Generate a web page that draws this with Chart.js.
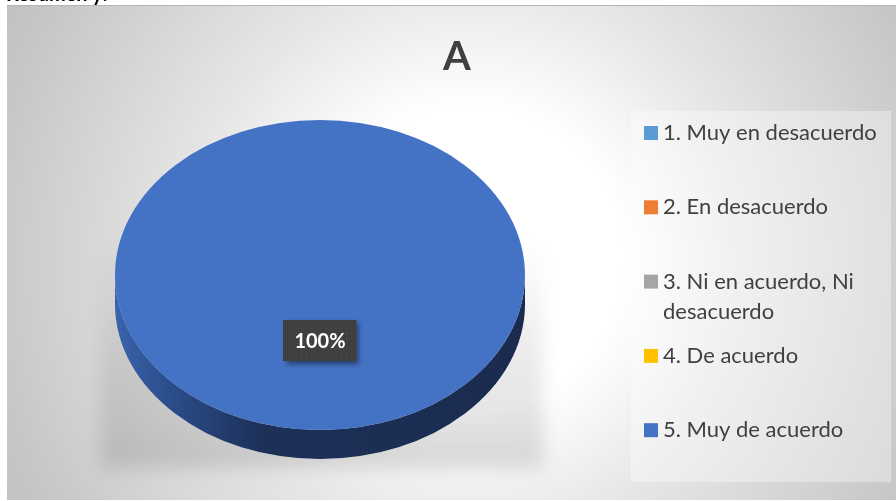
<!DOCTYPE html>
<html>
<head>
<meta charset="utf-8">
<script src="https://cdn.jsdelivr.net/npm/chart.js@4.4.1/dist/chart.umd.min.js"></script>
<style>
  html, body { margin: 0; padding: 0; background: #fff; overflow: hidden; }
  #wrap { position: relative; width: 896px; height: 501px; }
  #cut { position: absolute; left: 6px; top: -17px; font: bold 20px Lato, sans-serif; line-height: 20px; color: #000; z-index: 2; }
  canvas { position: absolute; left: 0; top: 0; }
</style>
</head>
<body>
<div id="wrap">
  <div id="cut">Resumen y:</div>
  <canvas id="chart" width="896" height="501"></canvas>
</div>
<script>
// data
const title = "A";
const categories = [
  "1. Muy en desacuerdo",
  "2. En desacuerdo",
  "3. Ni en acuerdo, Ni desacuerdo",
  "4. De acuerdo",
  "5. Muy de acuerdo",
];
const values = [0, 0, 0, 0, 100];
const colors = ["#5b9bd5", "#ed7d31", "#a5a5a5", "#ffc000", "#4472c4"];

// look of the fake 3d pie
const tilt = 155 / 205;   // squash of the top face
const depth = 29;         // thickness of the side
const topCenterY = 275;   // where the squashed face sits

const font = "Lato, 'Open Sans', sans-serif";

const total = values.reduce((a, b) => a + b, 0);

const wrapText = (ctx, text, maxW) => {
  const words = text.split(" ");
  const lines = [];
  let line = "";
  words.forEach((w) => {
    const test = line ? line + " " + w : w;
    if (ctx.measureText(test).width > maxW && line) {
      lines.push(line);
      line = w;
    } else {
      line = test;
    }
  });
  lines.push(line);
  return lines;
};

const pie3d = {
  id: "pie3d",
  beforeDraw: (chart) => {
    const ctx = chart.ctx;
    ctx.save();
    ctx.fillStyle = "#fff";
    ctx.fillRect(0, 0, chart.width, chart.height);

    // chart box with soft radial background
    const g = ctx.createRadialGradient(470, 260, 0, 470, 260, 525);
    g.addColorStop(0, "#ffffff");
    g.addColorStop(0.29, "#ffffff");
    g.addColorStop(0.54, "#e6e6e6");
    g.addColorStop(0.93, "#c6c6c6");
    g.addColorStop(1, "#c2c2c2");
    ctx.fillStyle = g;
    ctx.fillRect(7, 5, 889, 495);
    ctx.fillStyle = "#b4b4b4";
    ctx.fillRect(7, 5, 889, 1);

    // legend panel
    ctx.fillStyle = "rgba(255,255,255,0.35)";
    ctx.fillRect(631, 111, 260, 371);
    ctx.restore();
  },
  beforeDatasetsDraw: (chart) => {
    const ctx = chart.ctx;
    const meta = chart.getDatasetMeta(0);
    const first = meta.data[0];
    const cx = first.x;
    const cy = first.y;
    const r = first.outerRadius;
    const ry = r * tilt;

    // shadow under the pie
    ctx.save();
    ctx.filter = "blur(9px)";
    const sg = ctx.createLinearGradient(0, 240, 0, 470);
    sg.addColorStop(0, "rgba(0,0,0,0)");
    sg.addColorStop(0.5, "rgba(0,0,0,0.08)");
    sg.addColorStop(1, "rgba(0,0,0,0.12)");
    ctx.fillStyle = sg;
    ctx.fillRect(cx - r - 14, 240, 2 * r + 32, 228);
    ctx.restore();

    // side walls, one per slice, only on the front half
    ctx.save();
    meta.data.forEach((arc, i) => {
      if (values[i] <= 0) return;
      const s = arc.startAngle;
      const e = arc.endAngle;
      [0, 2 * Math.PI].forEach((shift) => {
        const a = Math.max(s - shift, 0);
        const b = Math.min(e - shift, Math.PI);
        if (b <= a) return;
        const lg = ctx.createLinearGradient(cx - r, 0, cx + r, 0);
        lg.addColorStop(0, "#3a64ad");
        lg.addColorStop(0.12, "#2c4f8e");
        lg.addColorStop(0.36, "#1d3058");
        lg.addColorStop(1, "#1a2b4e");
        ctx.fillStyle = lg;
        ctx.beginPath();
        ctx.ellipse(cx, topCenterY + depth, r, ry, 0, a, b);
        ctx.ellipse(cx, topCenterY, r, ry, 0, b, a, true);
        ctx.closePath();
        ctx.fill();
      });
    });
    ctx.restore();

    // squash the top face
    ctx.save();
    ctx.translate(cx, topCenterY);
    ctx.scale(1, tilt);
    ctx.translate(-cx, -cy);
  },
  afterDatasetsDraw: (chart) => {
    const ctx = chart.ctx;
    ctx.restore();

    const meta = chart.getDatasetMeta(0);
    meta.data.forEach((arc, i) => {
      if (values[i] <= 0) return;
      const mid = (arc.startAngle + arc.endAngle) / 2;
      const d = arc.outerRadius * 0.42;
      const x = arc.x + Math.cos(mid) * d;
      const y = topCenterY + Math.sin(mid) * d * tilt;
      const text = Math.round((values[i] / total) * 100) + "%";

      ctx.save();
      ctx.font = "bold 20px " + font;
      const w = ctx.measureText(text).width + 22;
      const h = 41;
      const bx = Math.round(x - w / 2);
      const by = Math.round(y - h / 2);
      ctx.shadowColor = "rgba(0,0,0,0.45)";
      ctx.shadowBlur = 5;
      ctx.shadowOffsetX = 3;
      ctx.shadowOffsetY = 3;
      ctx.fillStyle = "#3f3f3f";
      ctx.fillRect(bx, by, w, h);
      ctx.shadowColor = "transparent";
      ctx.fillStyle = "#4d4d4d";
      for (let px = bx + 3; px < bx + w; px += 5) {
        for (let py = by + 3; py < by + h; py += 5) {
          ctx.fillRect(px, py, 1, 1);
        }
      }
      ctx.fillStyle = "#ffffff";
      ctx.textAlign = "center";
      ctx.textBaseline = "middle";
      ctx.fillText(text, x, y + 1);
      ctx.restore();
    });
  },
  afterDraw: (chart) => {
    const ctx = chart.ctx;
    ctx.save();
    // title
    ctx.fillStyle = "#404040";
    ctx.font = "bold 40px " + font;
    ctx.textAlign = "center";
    ctx.textBaseline = "alphabetic";
    ctx.fillText(title, 457, 70);

    // legend
    ctx.font = "22px " + font;
    ctx.textAlign = "left";
    ctx.textBaseline = "middle";
    let y = 133;
    categories.forEach((c, i) => {
      const lines = wrapText(ctx, c, 222);
      ctx.fillStyle = colors[i];
      ctx.fillRect(644, y - 7, 14, 14);
      ctx.fillStyle = "#404040";
      lines.forEach((l, j) => ctx.fillText(l, 663, y + j * 30));
      y += 74.3;
    });
    ctx.restore();
  },
};

new Chart(document.getElementById("chart"), {
  type: "pie",
  data: {
    labels: categories,
    datasets: [
      {
        data: values,
        backgroundColor: colors,
        borderWidth: 0,
        clip: false,
      },
    ],
  },
  options: {
    responsive: false,
    animation: false,
    events: [],
    layout: {
      padding: { top: 45, right: 371, bottom: 46, left: 115 },
    },
    plugins: {
      legend: { display: false },
      title: { display: false },
      tooltip: { enabled: false },
    },
  },
  plugins: [pie3d],
});
</script>
</body>
</html>
